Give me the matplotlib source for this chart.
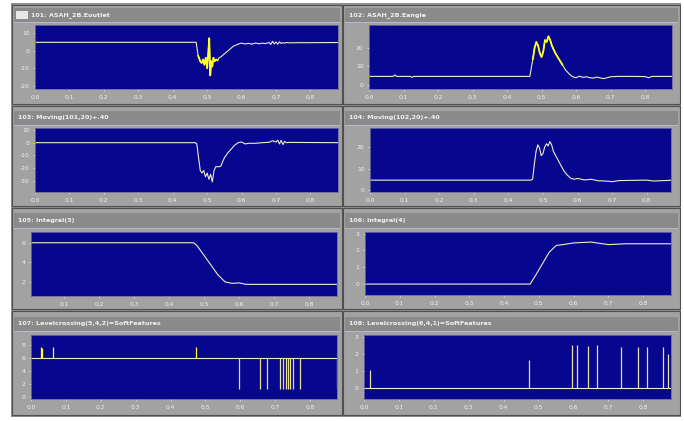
import matplotlib
matplotlib.use("Agg")
import matplotlib.pyplot as plt
from matplotlib.patches import Rectangle

W, H = 684, 421

# ---- channel data (time in s, value) ----
outlet_pts = [(0.0, 4.7), (0.468, 4.7), (0.474, -3), (0.480, -6), (0.484, -7), (0.488, -5),
              (0.492, -8), (0.496, -4), (0.500, -10), (0.503, -2), (0.506, 7), (0.509, -14),
              (0.512, -6), (0.515, -9), (0.518, -4), (0.522, -6), (0.526, -5), (0.530, -5.5),
              (0.535, -4), (0.540, -3.5), (0.546, -2.5), (0.552, -1.5), (0.558, -0.5),
              (0.564, 0.5), (0.570, 1.5), (0.576, 2.5), (0.582, 3.0), (0.588, 3.5), (0.594, 4.0),
              (0.600, 4.2), (0.610, 3.8), (0.620, 4.1), (0.630, 3.7), (0.640, 4.3), (0.650, 3.9),
              (0.660, 4.2), (0.670, 4.0), (0.680, 4.6), (0.685, 3.5), (0.690, 5.3), (0.695, 3.8),
              (0.700, 4.9), (0.705, 3.6), (0.710, 5.0), (0.715, 4.1), (0.720, 4.5), (0.725, 4.2),
              (0.730, 4.6), (0.740, 4.4), (0.760, 4.5), (0.800, 4.5), (0.880, 4.6)]
outlet_noisy = (0.470, 0.530)

angle_pts = [(0.0, 4.7), (0.070, 4.7), (0.075, 5.5), (0.080, 4.7), (0.120, 4.7), (0.125, 4.2),
             (0.130, 4.7), (0.466, 4.7), (0.475, 14), (0.480, 20), (0.485, 23), (0.490, 21),
             (0.495, 17), (0.500, 15), (0.505, 18), (0.510, 24), (0.515, 23), (0.520, 26),
             (0.525, 24), (0.530, 21), (0.540, 17), (0.550, 14), (0.560, 11), (0.570, 8),
             (0.580, 6), (0.590, 4.5), (0.600, 4.0), (0.610, 4.8), (0.620, 4.2), (0.630, 4.5),
             (0.640, 4.0), (0.650, 3.8), (0.660, 4.3), (0.680, 3.5), (0.700, 4.5), (0.720, 4.7),
             (0.760, 4.7), (0.800, 4.6), (0.810, 4.0), (0.820, 4.7), (0.880, 4.7)]
angle_noisy = (0.475, 0.560)

outlet_avg_pts = [(0.0, 0.0), (0.465, 0.0), (0.470, -1), (0.475, -12), (0.480, -22), (0.485, -24),
                  (0.490, -22), (0.495, -27), (0.500, -24), (0.505, -29), (0.510, -25),
                  (0.515, -31), (0.520, -22), (0.525, -19), (0.530, -19), (0.535, -19),
                  (0.540, -18.5), (0.545, -15), (0.550, -12), (0.560, -8), (0.570, -5),
                  (0.580, -2), (0.590, 0.0), (0.600, 0.5), (0.610, -1), (0.620, -0.5),
                  (0.640, -0.5), (0.660, 0.0), (0.680, 0.3), (0.690, 1.5), (0.700, 0.5),
                  (0.705, 2.0), (0.710, -1), (0.715, 1.8), (0.720, -1.5), (0.725, 1.0),
                  (0.730, 0.0), (0.740, 0.2), (0.880, 0.0)]

angle_avg_pts = [(0.0, 4.6), (0.465, 4.6), (0.470, 5.0), (0.475, 12), (0.480, 18), (0.485, 21),
                 (0.490, 19.5), (0.495, 16), (0.500, 17), (0.505, 20), (0.510, 21.5),
                 (0.515, 20.5), (0.520, 22.5), (0.525, 21), (0.530, 18), (0.540, 15),
                 (0.550, 12), (0.560, 9), (0.570, 7), (0.580, 5.5), (0.590, 5.0), (0.600, 5.4),
                 (0.620, 4.7), (0.640, 5.0), (0.660, 4.3), (0.680, 4.2), (0.700, 3.9),
                 (0.720, 4.4), (0.800, 4.6), (0.820, 4.2), (0.880, 4.6)]

integ_a_pts = [(0.0, 6.0), (0.470, 6.0), (0.480, 5.7), (0.500, 4.7), (0.520, 3.7), (0.540, 2.7),
               (0.560, 2.0), (0.580, 1.85), (0.600, 1.9), (0.620, 1.75), (0.700, 1.75),
               (0.880, 1.75)]

integ_b_pts = [(0.0, 0.0), (0.475, 0.0), (0.490, 0.5), (0.510, 1.2), (0.530, 1.9), (0.550, 2.3),
               (0.570, 2.35), (0.600, 2.45), (0.650, 2.5), (0.700, 2.35), (0.750, 2.4),
               (0.880, 2.4)]

cross_a_base = 6.0
cross_a_up_t = [0.028, 0.032, 0.064, 0.472]
cross_a_up_v = [7.7, 7.5, 7.6, 7.6]
cross_a_dn_t = [0.595, 0.655, 0.676, 0.714, 0.722, 0.730, 0.736, 0.743, 0.750, 0.771, 0.877]
cross_a_dn_v = [1.2, 1.2, 1.2, 1.2, 1.2, 1.2, 1.2, 1.2, 1.2, 1.2, 1.2]

cross_b_base = 0.0
cross_b_t = [0.017, 0.473, 0.597, 0.611, 0.642, 0.669, 0.738, 0.784, 0.810, 0.857, 0.872]
cross_b_v = [1.05, 1.65, 2.5, 2.5, 2.45, 2.5, 2.4, 2.4, 2.4, 2.4, 2.0]

titles = ["101: ASAH_2B.Eoutlet", "102: ASAH_2B.Eangle",
          "103: Moving(101,20)+.40", "104: Moving(102,20)+.40",
          "105: Integral(3)", "106: Integral(4)",
          "107: Levelcrossing(5,4,2)=SoftFeatures", "108: Levelcrossing(6,4,1)=SoftFeatures"]

x_ticks = [0.0, 0.1, 0.2, 0.3, 0.4, 0.5, 0.6, 0.7, 0.8]

# ---- styling ----
NAVY = "#06068f"
PANEL = "#a2a2a2"
BAR = "#8a8a8a"
EDGE = "#505050"
LINE = "#eeeec0"
HILITE = "#ffff20"
TXT = "#f2f2f2"


def frac(x0, y0, x1, y1):
    return [x0 / W, 1 - y1 / H, (x1 - x0) / W, (y1 - y0) / H]


fig = plt.figure(figsize=(W / 100, H / 100), dpi=100, facecolor="white")


def fig_rect(x0, y0, x1, y1, fc, ec="none", lw=0.0, z=0):
    r = Rectangle((x0 / W, 1 - y1 / H), (x1 - x0) / W, (y1 - y0) / H,
                  transform=fig.transFigure, facecolor=fc, edgecolor=ec, linewidth=lw, zorder=z)
    fig.patches.append(r)


# window background
fig_rect(11, 3, 681, 417, "#8e8e8e", z=0)

cols = [(12, 342), (343, 680)]
rows = [(5, 104), (106, 206), (208, 309), (311, 415)]
title_bars = [(8, 22), (111, 125), (213, 228), (317, 331)]

for ri, (ry0, ry1) in enumerate(rows):
    for ci, (cx0, cx1) in enumerate(cols):
        fig_rect(cx0, ry0, cx1, ry1, PANEL, ec=EDGE, lw=0.8, z=1)
        ty0, ty1 = title_bars[ri]
        fig_rect(cx0 + 2, ty0, cx1 - 2, ty1, BAR, z=2)
        # thin light line under title bar
        fig_rect(cx0 + 2, ty1, cx1 - 2, ty1 + 1, "#b8b8c8", z=2)
        idx = ri * 2 + ci
        tx = cx0 + 6
        if idx == 0:
            fig_rect(cx0 + 4, ty0 + 3, cx0 + 16, ty1 - 3, "#e8e8e8", z=3)
            tx = cx0 + 19
        fig.text(tx / W, 1 - ((ty0 + ty1) / 2) / H, titles[idx], color=TXT,
                 fontsize=4.6, fontweight="bold", va="center", ha="left", zorder=4)

plot_boxes = [(35, 25, 338, 89), (369, 25, 672, 89),
              (35, 128, 338, 192), (370, 128, 671, 192),
              (31, 232, 337, 296), (365, 232, 671, 295),
              (31, 335, 337, 399), (364, 335, 671, 399)]

ylims = [(-21.7, 14.5), (-2.0, 32.0), (-39.0, 11.6), (-0.9, 28.8),
         (0.56, 7.1), (-0.65, 3.1), (-0.3, 9.5), (-0.65, 3.1)]
yticks = [[-20, -10, 0, 10], [0, 10, 20], [-30, -20, -10, 0, 10], [0, 10, 20],
          [2, 4, 6], [0, 1, 2, 3], [0, 2, 4, 6, 8], [0, 1, 2, 3]]
xlims = [(0, 0.88), (0, 0.878), (0, 0.88), (0, 0.87),
         (0.005, 0.88), (0, 0.88), (0.005, 0.877), (0, 0.88)]

axes = []
for i, box in enumerate(plot_boxes):
    ax = fig.add_axes(frac(*box), zorder=5)
    ax.set_facecolor(NAVY)
    ax.set_xlim(*xlims[i])
    ax.set_ylim(*ylims[i])
    ax.set_yticks(yticks[i])
    ax.set_yticklabels([str(v) for v in yticks[i]])
    xt = x_ticks if i != 4 else x_ticks[1:]
    ax.set_xticks(xt)
    ax.set_xticklabels(["%.1f" % v for v in xt])
    ax.tick_params(colors=TXT, labelsize=4.3, length=1.5, width=0.4, pad=2.5)
    for s in ax.spines.values():
        s.set_color("#6a6a9a")
        s.set_linewidth(0.6)
    axes.append(ax)


def draw_curve(ax, pts, noisy=None):
    t = [p[0] for p in pts]
    v = [p[1] for p in pts]
    ax.plot(t, v, color=LINE, lw=0.8, solid_joinstyle="round")
    if noisy is not None:
        sel = [p for p in pts if noisy[0] <= p[0] <= noisy[1]]
        ax.plot([p[0] for p in sel], [p[1] for p in sel], color=HILITE, lw=1.3)


draw_curve(axes[0], outlet_pts, outlet_noisy)
draw_curve(axes[1], angle_pts, angle_noisy)
draw_curve(axes[2], outlet_avg_pts)
draw_curve(axes[3], angle_avg_pts)
draw_curve(axes[4], integ_a_pts)
draw_curve(axes[5], integ_b_pts)

ax = axes[6]
ax.axhline(cross_a_base, color=LINE, lw=0.8)
ax.vlines(cross_a_up_t, cross_a_base, cross_a_up_v, color=HILITE, lw=0.9)
ax.vlines(cross_a_dn_t, cross_a_dn_v, cross_a_base, color="#e8e090", lw=0.9)

ax = axes[7]
ax.axhline(cross_b_base, color=LINE, lw=0.8)
ax.vlines(cross_b_t, cross_b_base, cross_b_v, color="#e8e0a0", lw=0.9)

fig.savefig("out.png", dpi=100, facecolor="white")
